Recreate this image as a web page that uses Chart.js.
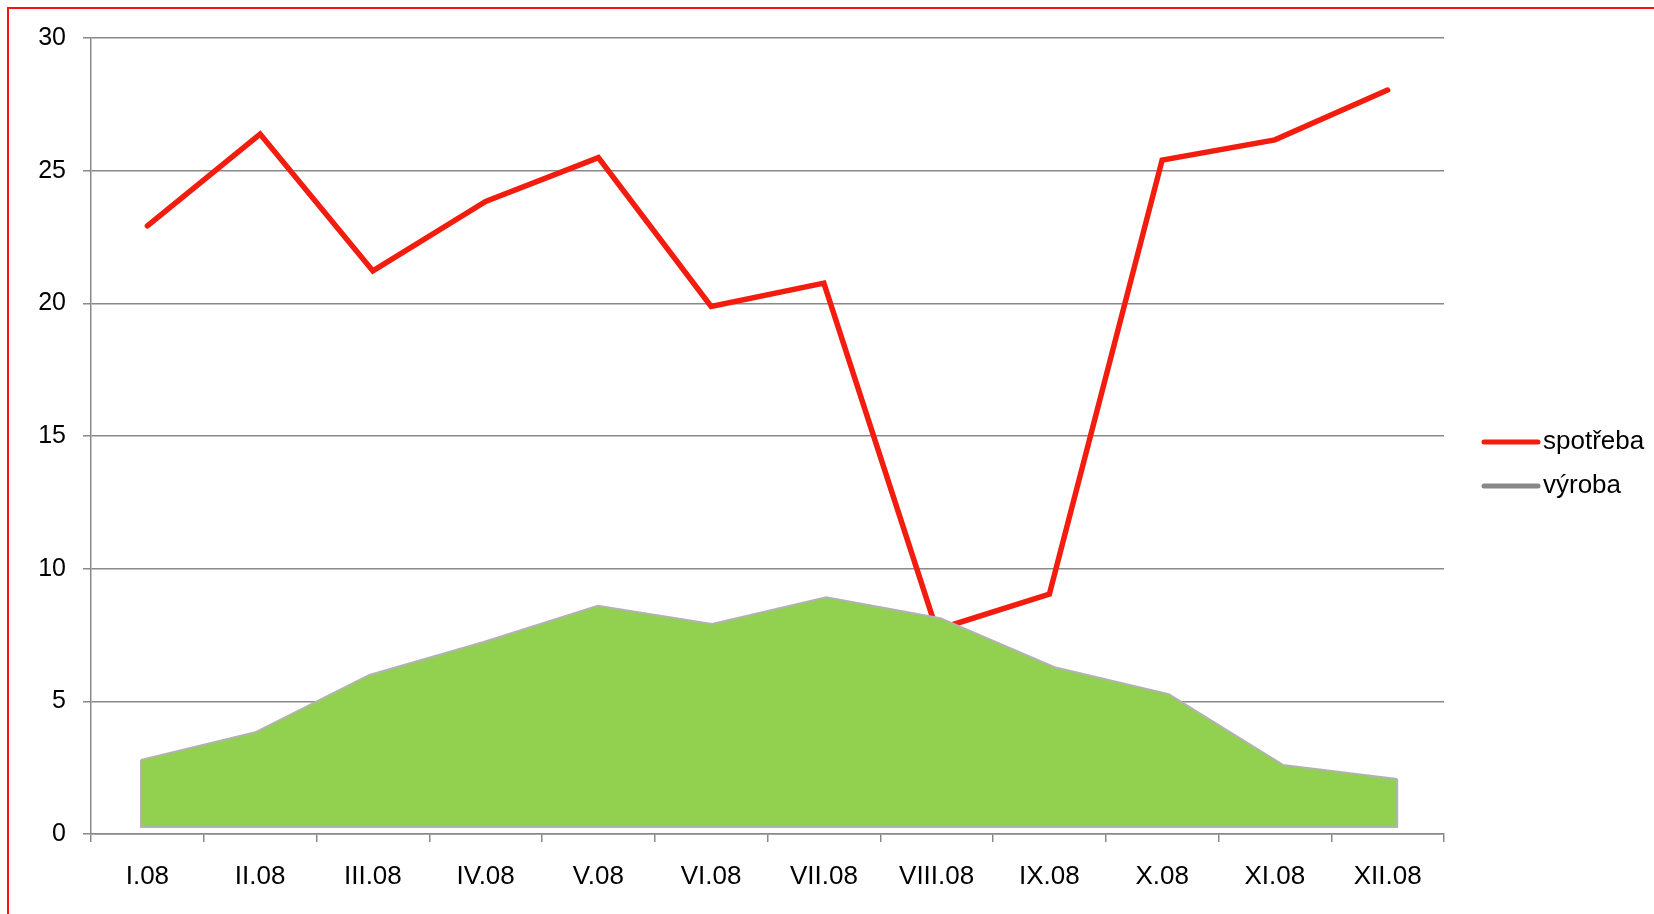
<!DOCTYPE html>
<html>
<head>
<meta charset="utf-8">
<script src="https://cdn.jsdelivr.net/npm/chart.js@4/dist/chart.umd.min.js"></script>
<style>
  html, body { margin: 0; padding: 0; background: #fff; overflow: hidden; }
  #wrap { position: relative; width: 1654px; height: 914px; }
  #frame { position: absolute; left: 7px; top: 7px; width: 2000px; height: 2000px;
           border-top: 2px solid #ff1010; border-left: 2px solid #ff1010; pointer-events: none; }
</style>
</head>
<body>
<div id="wrap">
  <canvas id="c"></canvas>
  <div id="frame"></div>
</div>
<script>
// ---- data ----
const categories = ['I.08','II.08','III.08','IV.08','V.08','VI.08','VII.08','VIII.08','IX.08','X.08','XI.08','XII.08'];
const spotreba = [22.92, 26.38, 21.22, 23.84, 25.49, 19.88, 20.76, 7.7, 9.04, 25.4, 26.16, 28.04];
const vyroba   = [2.53, 3.57, 5.73, 6.97, 8.34, 7.65, 8.66, 7.87, 6.02, 5.01, 2.34, 1.81];
const yTicks = [0, 5, 10, 15, 20, 25, 30];

const FONT = "'Liberation Sans', Arial, sans-serif";
const GRID = '#898989';
const RED = '#f21d0f';
const GREEN = '#92d050';
const AREA_EDGE = '#b2b2b2';

// the area series is drawn slightly offset (Excel shadow-like placement)
const AREA_Y_SHIFT = 0.264;

const areaFrame = {
  id: 'areaFrame',
  afterDatasetDraw(chart, args) {
    if (args.index !== 1) return;
    const pts = args.meta.data;
    if (!pts.length) return;
    const base = chart.scales.y2.getPixelForValue(0);
    const ctx = chart.ctx;
    ctx.save();
    ctx.strokeStyle = AREA_EDGE;
    ctx.lineWidth = 2;
    ctx.lineJoin = 'miter';
    ctx.beginPath();
    ctx.moveTo(pts[0].x, pts[0].y);
    ctx.lineTo(pts[0].x, base);
    ctx.lineTo(pts[pts.length - 1].x, base);
    ctx.lineTo(pts[pts.length - 1].x, pts[pts.length - 1].y);
    ctx.stroke();
    ctx.restore();
  }
};

const sideLegend = {
  id: 'sideLegend',
  afterDraw(chart) {
    const ctx = chart.ctx;
    const a = chart.chartArea;
    const items = [
      { text: chart.data.datasets[0].label, color: RED },
      { text: chart.data.datasets[1].label, color: '#888888' }
    ];
    const x0 = a.right + 40, x1 = x0 + 54, tx = x1 + 5;
    let y = (a.top + a.bottom) / 2 + 6;
    ctx.save();
    ctx.font = '26px ' + FONT;
    ctx.textBaseline = 'middle';
    ctx.textAlign = 'left';
    items.forEach(it => {
      ctx.strokeStyle = it.color;
      ctx.lineWidth = 5;
      ctx.lineCap = 'round';
      ctx.beginPath();
      ctx.moveTo(x0, y);
      ctx.lineTo(x1, y);
      ctx.stroke();
      ctx.fillStyle = '#000';
      ctx.fillText(it.text, tx, y);
      y += 44;
    });
    ctx.restore();
  }
};

new Chart(document.getElementById('c'), {
  type: 'line',
  data: {
    labels: categories,
    datasets: [
      {
        label: 'spotřeba',
        data: spotreba,
        borderColor: RED,
        borderWidth: 5.5,
        borderCapStyle: 'round',
        borderJoinStyle: 'miter',
        pointRadius: 0,
        fill: false,
        tension: 0,
        order: 2
      },
      {
        label: 'výroba',
        data: vyroba.map((v, i) => ({ x: i, y: v })),
        xAxisID: 'x2',
        yAxisID: 'y2',
        borderColor: AREA_EDGE,
        borderWidth: 2,
        backgroundColor: GREEN,
        fill: 'origin',
        pointRadius: 0,
        tension: 0,
        order: 1
      }
    ]
  },
  options: {
    responsive: true,
    maintainAspectRatio: false,
    animation: false,
    layout: { padding: { left: 0, top: 38, right: 210, bottom: 0 } },
    plugins: {
      legend: { display: false },
      tooltip: { enabled: false },
      title: { display: false }
    },
    scales: {
      x: {
        type: 'category',
        offset: true,
        grid: { display: true, drawOnChartArea: false, drawTicks: true, tickLength: 8, offset: true, color: GRID, lineWidth: 1.5 },
        border: { display: true, color: GRID, width: 1.5 },
        ticks: { font: { family: FONT, size: 26 }, color: '#000', padding: 19, maxRotation: 0, autoSkip: false },
        afterFit(s) { s.height = 80; }
      },
      y: {
        min: 0, max: 30,
        afterBuildTicks(s) { s.ticks = yTicks.map(v => ({ value: v })); },
        grid: { color: GRID, lineWidth: 1.5, tickLength: 8, drawTicks: true },
        border: { display: true, color: GRID, width: 1.5 },
        ticks: { font: { family: FONT, size: 25 }, color: '#000', padding: 17 },
        afterFit(s) { s.width = 91; }
      },
      x2: {
        type: 'linear',
        display: false,
        min: -0.438,
        max: 11.41
      },
      y2: {
        type: 'linear',
        display: false,
        min: -AREA_Y_SHIFT,
        max: 30 - AREA_Y_SHIFT
      }
    }
  },
  plugins: [areaFrame, sideLegend]
});
</script>
</body>
</html>
